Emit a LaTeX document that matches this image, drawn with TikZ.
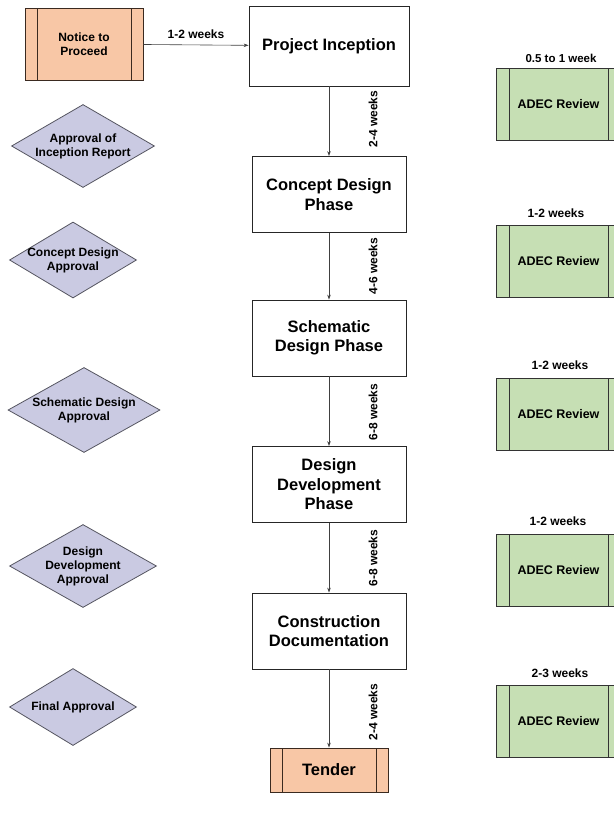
\documentclass[tikz,border=0pt]{standalone}
\usepackage{fontspec}
\setmainfont{Liberation Sans}
\usetikzlibrary{shapes.geometric,arrows.meta}
\definecolor{peach}{HTML}{F8C7A6}
\definecolor{peachline}{HTML}{3A2A20}
\definecolor{leaf}{HTML}{C6DFB4}
\definecolor{lav}{HTML}{CACAE2}
\definecolor{lavline}{HTML}{555560}
\tikzset{
  phase/.style={draw=black!85, line width=0.8pt, fill=white, minimum width=154pt, minimum height=76pt, align=center, font=\fontsize{16.5}{19.5}\selectfont\bfseries, inner sep=0pt},
  terminal/.style={draw=peachline, line width=0.8pt, fill=peach, align=center, inner sep=0pt,
    path picture={\draw[line width=0.8pt,peachline] ([xshift=12pt]path picture bounding box.north west) -- ([xshift=12pt]path picture bounding box.south west);
      \draw[line width=0.8pt,peachline] ([xshift=-12pt]path picture bounding box.north east) -- ([xshift=-12pt]path picture bounding box.south east);}},
  review/.style={draw=black!80, line width=0.8pt, fill=leaf, minimum width=125pt, minimum height=72pt, inner sep=0pt, font=\fontsize{12.5}{14}\selectfont\bfseries,
    path picture={\draw[line width=0.8pt,black!80] ([xshift=13pt]path picture bounding box.north west) -- ([xshift=13pt]path picture bounding box.south west);
      \draw[line width=0.8pt,black!80] ([xshift=-13pt]path picture bounding box.north east) -- ([xshift=-13pt]path picture bounding box.south east);}},
  gate/.style={diamond, draw=lavline, line width=0.8pt, fill=lav, inner sep=0pt},
  gatetext/.style={align=center, font=\fontsize{12}{14}\selectfont\bfseries, inner sep=0pt},
  flow/.style={draw=black!75, line width=0.6pt, -{Stealth[length=5pt,width=3.5pt]}},
  dur/.style={font=\fontsize{12}{14}\selectfont\bfseries, inner sep=0pt},
  vdur/.style={dur, rotate=90},
}
\begin{document}
\begin{tikzpicture}[x=1pt,y=-1pt]
\useasboundingbox (0,0) rectangle (613,819);
% left start box
\node[terminal, minimum width=118pt, minimum height=72pt, font=\fontsize{12}{14.5}\selectfont\bfseries] (ntp) at (84,44) {Notice to\\Proceed};
% phases
\node[phase, minimum width=160pt, minimum height=80pt] (pi) at (329,46) {Project Inception};
\node[phase] (cd) at (329,194.5) {Concept Design\\Phase};
\node[phase] (sd) at (329,338) {Schematic\\Design Phase};
\node[phase] (dd) at (329,484.5) {Design\\Development\\Phase};
\node[phase] (cn) at (329,631) {Construction\\Documentation};
\node[terminal, minimum width=118pt, minimum height=44pt, font=\fontsize{16.5}{19}\selectfont\bfseries] (td) at (329,770) {Tender};
% connectors
\draw[flow] (ntp) -- node[dur, above=6pt] (w0) {1-2 weeks} (pi);
\draw[flow] (pi) -- (cd);
\draw[flow] (cd) -- (sd);
\draw[flow] (sd) -- (dd);
\draw[flow] (dd) -- (cn);
\draw[flow] (cn) -- (td);
\node[vdur] (w1) at (373,119) {2-4 weeks};
\node[vdur] (w2) at (373,266) {4-6 weeks};
\node[vdur] (w3) at (373,412) {6-8 weeks};
\node[vdur] (w4) at (373,558) {6-8 weeks};
\node[vdur] (w5) at (373,712) {2-4 weeks};
% approvals
\node[gate, minimum width=143pt, minimum height=83pt] (g1) at (83,146) {};
\node[gatetext] (g1t) at (g1) {Approval of\\Inception Report};
\node[gate, minimum width=127pt, minimum height=76pt] (g2) at (73,260) {};
\node[gatetext] (g2t) at (g2) {Concept Design\\Approval};
\node[gate, minimum width=152pt, minimum height=85pt] (g3) at (84,410) {};
\node[gatetext] (g3t) at (g3) {Schematic Design\\Approval};
\node[gate, minimum width=147pt, minimum height=83pt] (g4) at (83,566) {};
\node[gatetext] (g4t) at (g4) {Design\\Development\\Approval};
\node[gate, minimum width=127pt, minimum height=77pt] (g5) at (73,707) {};
\node[gatetext] (g5t) at (g5) {Final Approval};
% ADEC reviews
\node[review] (r1) at (558.5,104) {ADEC Review};
\node[dur, font=\fontsize{11.5}{13}\selectfont\bfseries] (r1l) at (561,58) {0.5 to 1 week};
\node[review] (r2) at (558.5,261.5) {ADEC Review};
\node[dur] (r2l) at (556,213) {1-2 weeks};
\node[review] (r3) at (558.5,414) {ADEC Review};
\node[dur] (r3l) at (560,365) {1-2 weeks};
\node[review] (r4) at (558.5,570) {ADEC Review};
\node[dur] (r4l) at (558,521) {1-2 weeks};
\node[review] (r5) at (558.5,721) {ADEC Review};
\node[dur] (r5l) at (560,673) {2-3 weeks};
\end{tikzpicture}
\end{document}
